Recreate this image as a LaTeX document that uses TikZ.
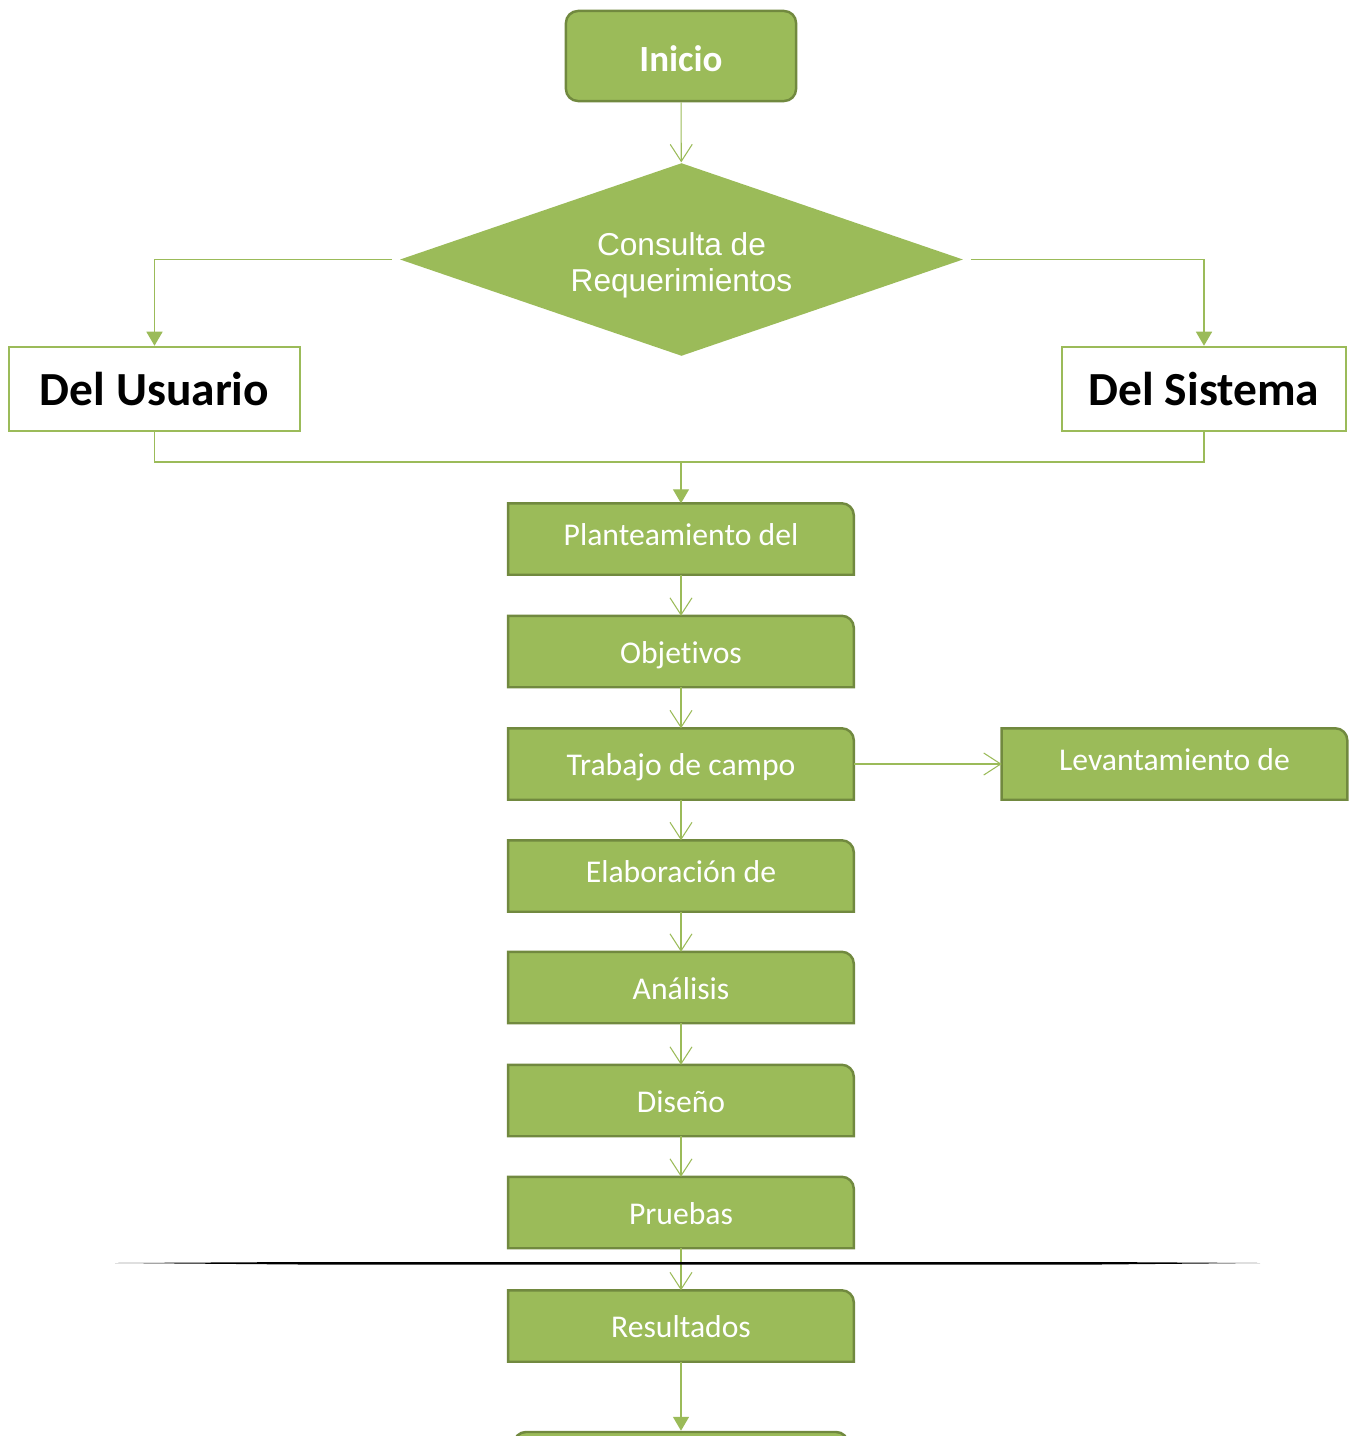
\documentclass[tikz,border=0pt]{standalone}
\usepackage{fontspec}
\setmainfont{Carlito}[Ligatures=NoCommon]
\newfontfamily\arialfont{Liberation Sans}
\usetikzlibrary{arrows.meta,shapes.geometric,backgrounds,calc}

\definecolor{verde}{HTML}{9BBB59}
\definecolor{verdeosc}{HTML}{71893F}

\begin{document}
\begin{tikzpicture}[x=0.01cm,y=-0.01cm,
	paso/.style={minimum width=3.44cm,minimum height=0.7cm,inner sep=0pt,
		text height=0.25cm,text depth=0.02cm,
		text=white,font=\fontsize{9}{11}\selectfont},
	cortado/.style={text depth=0.13cm},
	flecha/.style={draw=verde,line width=0.3pt,-{Straight Barb[length=0.17cm,width=0.22cm]}},
	flechallena/.style={draw=verde,line width=0.4pt,-{Triangle[length=0.14cm,width=0.16cm]}}]
	\useasboundingbox (0,0) rectangle (1353,1436);
	\clip (0,0) rectangle (1353,1436);

	\node (inicio) at (681,56) [rounded corners=0.12cm,fill=verde,draw=verdeosc,line width=0.7pt,
		minimum width=2.3cm,minimum height=0.9cm,text=white,text height=0.3cm,text depth=0cm,
		font=\bfseries\fontsize{10.5}{12}\selectfont] {Inicio};
	\node (consulta) at (681.5,259.5) [diamond,fill=verde,inner sep=0pt,aspect=2.9,
		minimum width=5.63cm,minimum height=1.93cm,text=white,align=center,
		text height=0.63cm,text depth=0cm,
		font=\arialfont\fontsize{9}{10.2}\selectfont] {Consulta de\\Requerimientos};

	\begin{scope}[every node/.style={draw=verde,line width=0.7pt,fill=white,
		minimum height=0.84cm,font=\bfseries\fontsize{13.5}{15}\selectfont}]
		\node (usuario) at (154.5,389) [minimum width=2.91cm] {Del Usuario};
		\node (sistema) at (1204,389) [minimum width=2.84cm] {Del Sistema};
	\end{scope}

	\begin{scope}[every node/.style={paso}]
		\node (plante) at (681,539) [cortado] {Planteamiento del};
		\node (objetivos) at (681,651.5) {Objetivos};
		\node (campo) at (681,764) {Trabajo de campo};
		\node (levant) at (1174.5,764) [cortado] {Levantamiento de};
		\node (elabor) at (681,876) [cortado] {Elaboración de};
		\node (analisis) at (681,987.5) {Análisis};
		\node (diseno) at (681,1100.5) {Diseño};
		\node (pruebas) at (681,1212.5) {Pruebas};
		\node (resultados) at (681,1326) {Resultados};
	\end{scope}
	\node (siguiente) at (681,1468) [rounded corners=0.12cm,fill=verde,draw=verdeosc,line width=0.7pt,
		minimum width=3.34cm,minimum height=0.72cm] {};

	% cajas con una esquina redondeada
	\begin{scope}[on background layer]
		\foreach \n in {plante,objetivos,campo,levant,elabor,analisis,diseno,pruebas,resultados}
			\draw[fill=verde,draw=verdeosc,line width=0.7pt] (\n.south west) -- (\n.north west)
				-- ([xshift=-0.12cm]\n.north east) arc[start angle=90,end angle=0,radius=0.12cm]
				-- (\n.south east) -- cycle;
	\end{scope}

	\coordinate (union) at (681,462);

	\path[flecha] (inicio) edge (consulta);
	\draw[flechallena] ([xshift=-0.07cm]consulta.west) -| (usuario);
	\draw[flechallena] ([xshift=0.07cm]consulta.east) -| (sistema);
	\draw[draw=verde,line width=0.4pt] (usuario) |- (union) -| (sistema);
	\draw[flechallena] (union) -- (plante);

	\begin{scope}[flecha]
		\path (plante) edge (objetivos);
		\path (objetivos) edge (campo);
		\path (campo) edge (levant);
		\path (campo) edge (elabor);
		\path (elabor) edge (analisis);
		\path (analisis) edge (diseno);
		\path (diseno) edge (pruebas);
		\path (pruebas) edge (resultados);
	\end{scope}
	\draw[flechallena] (resultados) -- (siguiente);

	% linea negra
	\fill[black] (115,1263) -- (300,1262) -- (1100,1262) -- (1260,1263)
		-- (1100,1264.5) -- (300,1264.5) -- cycle;
\end{tikzpicture}
\end{document}
